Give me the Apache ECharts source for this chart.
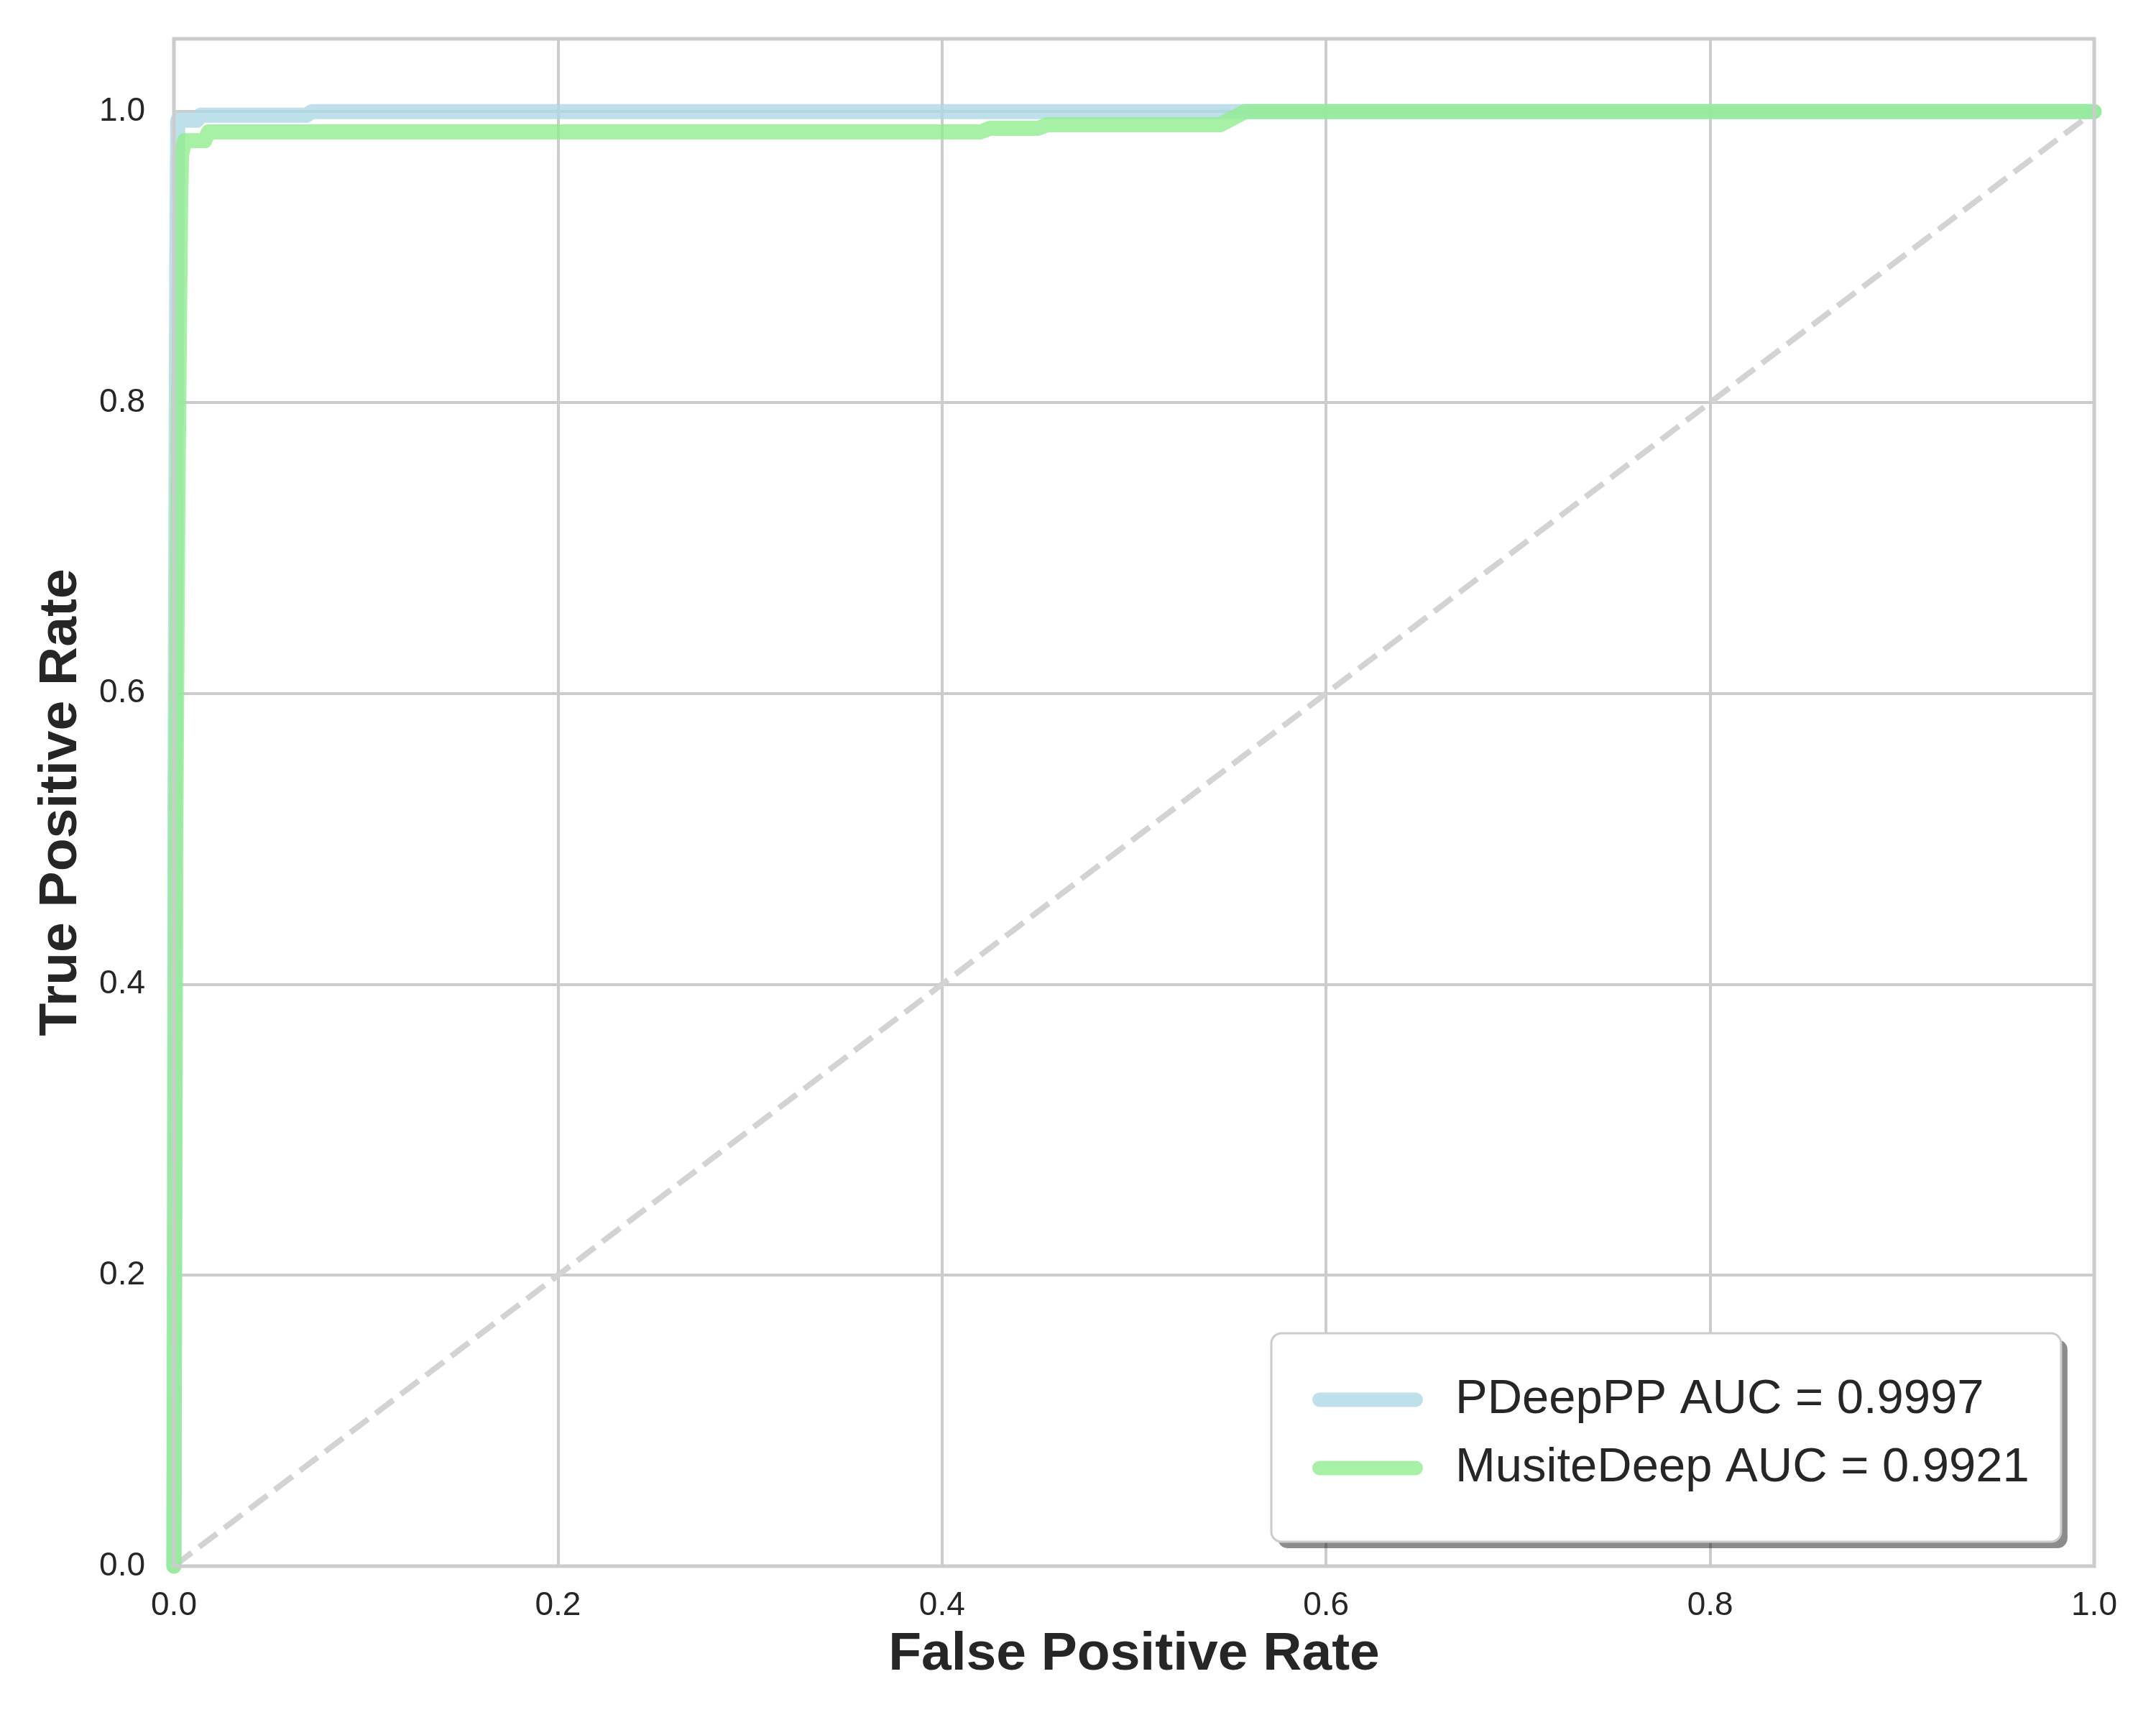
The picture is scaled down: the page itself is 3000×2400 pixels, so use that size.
<!DOCTYPE html>
<html>
<head>
<meta charset="utf-8">
<script src="https://cdn.jsdelivr.net/npm/echarts@6/dist/echarts.min.js"></script>
<style>
  html, body { margin: 0; padding: 0; background: #ffffff; }
  #main { width: 3000px; height: 2400px; }
</style>
</head>
<body>
<div id="main"></div>
<script>
const chartDom = document.getElementById('main');
const myChart = echarts.init(chartDom, null, { renderer: 'canvas' });

// ROC curve points
const pdeepppFpr = [0, 0.0005, 0.0015, 0.002, 0.012, 0.014, 0.069, 0.072, 1];
const pdeepppTpr = [0, 0.5, 0.9, 0.994, 0.994, 0.9975, 0.9975, 1, 1];

const musiteFpr = [0, 0.001, 0.002, 0.0035, 0.004, 0.0055, 0.016, 0.018, 0.42, 0.425, 0.45, 0.455, 0.545, 0.558, 1];
const musiteTpr = [0, 0.5, 0.72, 0.94, 0.97, 0.98, 0.98, 0.986, 0.986, 0.9885, 0.9885, 0.991, 0.991, 1, 1];

const chanceFpr = [0, 1];
const chanceTpr = [0, 1];

const seriesNames = ['PDeepPP AUC = 0.9997', 'MusiteDeep AUC = 0.9921'];
const seriesColors = ['rgba(173,216,230,0.8)', 'rgba(144,238,144,0.8)'];

const fontFamily = '"Liberation Sans", Arial, sans-serif';
const textColor = '#262626';
const gridColor = '#cccccc';

const toPairs = (xs, ys) => xs.map((x, i) => [x, ys[i]]);

const curveSeries = (name, color, xs, ys) => ({
    name,
    type: 'line',
    data: toPairs(xs, ys),
    symbol: 'none',
    smooth: false,
    color,
    lineStyle: { width: 21, color, cap: 'round', join: 'round' },
    z: 2
});

const stadium = 'path://M10,0 L144,0 A10,10 0 0 1 144,20 L10,20 A10,10 0 0 1 10,0 Z';

// the same legend box twice: once filled with its drop shadow, once only its frame
const legendBase = {
    data: seriesNames,
    orient: 'vertical',
    left: 1769,
    top: 1855,
    icon: stadium,
    itemWidth: 154,
    itemHeight: 21,
    itemGap: 20,
    padding: [55, 44, 65, 57],
    borderRadius: 14,
    selectedMode: false,
    textStyle: {
        fontFamily,
        fontSize: 67,
        lineHeight: 75,
        color: textColor,
        padding: [0, 0, 0, 40]
    }
};

myChart.setOption({
    backgroundColor: '#ffffff',
    animation: false,
    grid: {
        left: 242,
        right: 86,
        top: 54,
        bottom: 221,
        show: true,
        borderColor: gridColor,
        borderWidth: 5,
        backgroundColor: 'transparent',
        z: 10
    },
    legend: [
        Object.assign({}, legendBase, {
            backgroundColor: '#ffffff',
            borderWidth: 0,
            shadowColor: 'rgba(0,0,0,0.45)',
            shadowBlur: 0,
            shadowOffsetX: 9,
            shadowOffsetY: 9,
            z: 20
        }),
        Object.assign({}, legendBase, {
            backgroundColor: 'transparent',
            borderColor: gridColor,
            borderWidth: 3,
            itemStyle: { opacity: 0 },
            textStyle: Object.assign({}, legendBase.textStyle, { color: 'transparent' }),
            z: 21
        })
    ],
    xAxis: {
        type: 'value',
        min: 0,
        max: 1,
        interval: 0.2,
        name: 'False Positive Rate',
        nameLocation: 'middle',
        nameGap: 86,
        nameTextStyle: { fontFamily, fontSize: 75, fontWeight: 'bold', color: textColor },
        axisLine: { show: false },
        axisTick: { show: false },
        axisLabel: {
            margin: 32,
            fontFamily,
            fontSize: 46,
            color: textColor,
            formatter: (v) => v.toFixed(1)
        },
        splitLine: { show: true, lineStyle: { color: gridColor, width: 4 } }
    },
    yAxis: {
        type: 'value',
        min: 0,
        max: 1.05,
        interval: 0.2,
        name: 'True Positive Rate',
        nameLocation: 'middle',
        nameGap: 119,
        nameTextStyle: { fontFamily, fontSize: 75, fontWeight: 'bold', color: textColor },
        axisLine: { show: false },
        axisTick: { show: false },
        axisLabel: {
            margin: 40,
            fontFamily,
            fontSize: 46,
            color: textColor,
            showMaxLabel: false,
            formatter: (v) => (v > 1.001 ? '' : v.toFixed(1))
        },
        splitLine: { show: true, lineStyle: { color: gridColor, width: 4 } }
    },
    series: [
        curveSeries(seriesNames[0], seriesColors[0], pdeepppFpr, pdeepppTpr),
        curveSeries(seriesNames[1], seriesColors[1], musiteFpr, musiteTpr),
        {
            name: 'chance',
            type: 'line',
            data: toPairs(chanceFpr, chanceTpr),
            symbol: 'none',
            lineStyle: { color: '#d3d3d3', width: 8, type: [31, 13] },
            z: 1
        }
    ]
});

window.addEventListener('resize', () => {
    myChart.resize();
});
</script>
</body>
</html>
